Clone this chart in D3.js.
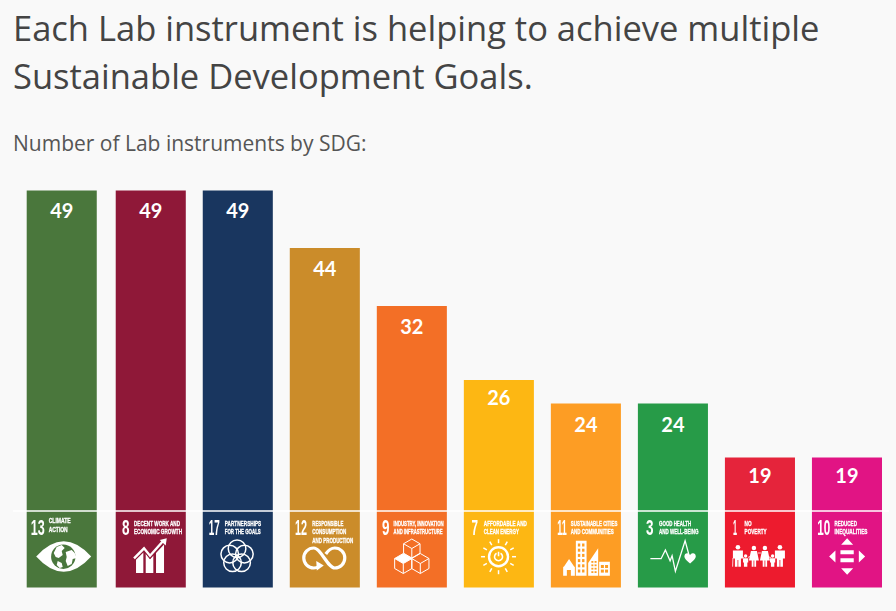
<!DOCTYPE html>
<html>
<head>
<meta charset="utf-8">
<script src="https://cdn.jsdelivr.net/npm/d3@7"></script>
<style>
html, body { margin: 0; padding: 0; background: #f9f9f9; overflow: hidden; }
svg { display: block; }
</style>
</head>
<body>
<div id="chart"></div>
<script>
const titleLines = ["Each Lab instrument is helping to achieve multiple", "Sustainable Development Goals."];
const subtitle = "Number of Lab instruments by SDG:";
const sdgNumbers = ["13", "8", "17", "12", "9", "7", "11", "3", "1", "10"];
const instrumentCounts = [49, 49, 49, 44, 32, 26, 24, 24, 19, 19];
const sdgLabels = [
    ["CLIMATE", "ACTION"],
    ["DECENT WORK AND", "ECONOMIC GROWTH"],
    ["PARTNERSHIPS", "FOR THE GOALS"],
    ["RESPONSIBLE", "CONSUMPTION", "AND PRODUCTION"],
    ["INDUSTRY, INNOVATION", "AND INFRASTRUCTURE"],
    ["AFFORDABLE AND", "CLEAN ENERGY"],
    ["SUSTAINABLE CITIES", "AND COMMUNITIES"],
    ["GOOD HEALTH", "AND WELL-BEING"],
    ["NO", "POVERTY"],
    ["REDUCED", "INEQUALITIES"]
];
const barColors = ["#4a773c", "#8f1838", "#19365f", "#cb8c2a", "#f36f26", "#fdb713", "#fd9d24", "#279b48", "#e5243b", "#e11484"];
const cardColors = ["#4a773c", "#8f1838", "#19365f", "#cb8c2a", "#f36f26", "#fdb713", "#fd9d24", "#279b48", "#ed1b2e", "#e11484"];

// text placement inside each goal card
const numberOffsets = [4, 6.3, 6, 5.2, 5.3, 7.7, 6.3, 8.2, 8, 5.2];
const labelOffsets = [22, 18.3, 22, 22.5, 16.8, 20, 20, 21.2, 19.7, 22.5];
const numberWidths = [14, 7.5, 11, 12, 7.5, 6.5, 9.5, 7.5, 4, 13];
const labelWidths = [[22, 19], [46, 48], [36.5, 36], [31, 34, 41], [50, 49], [43, 35], [46.5, 43], [32, 39.5], [7, 22], [22.5, 33]];
const countDrop = [27.5, 27.5, 27.5, 27.5, 27.5, 24.5, 28, 28, 25, 25];

const width = 896, height = 611;
const baseline = 511, cardBottom = 587.5;

const svg = d3.select("#chart").append("svg").attr("width", width).attr("height", height);

svg.append("defs").append("filter").attr("id", "soft")
    .append("feGaussianBlur").attr("stdDeviation", 0.3);

svg.selectAll(".title").data(titleLines).enter().append("text")
    .attr("x", 13)
    .attr("y", (d, i) => 41 + i * 47.5)
    .attr("font-family", "'Open Sans'")
    .attr("font-size", 34.5)
    .attr("fill", "#444444")
    .text(d => d);

svg.append("text")
    .attr("x", 13).attr("y", 151)
    .attr("font-family", "'Open Sans'")
    .attr("font-size", 21)
    .attr("fill", "#555555")
    .text(subtitle);

var band = d3.scaleBand()
    .domain(sdgNumbers)
    .range([28.7, 882])
    .paddingInner(0.195)
    .paddingOuter(0);

// first bar sits a little further left than the regular step in the picture
function x(n) { return band(n) - (n === sdgNumbers[0] ? 2 : 0); }

// the bars in the picture are not proportional to their counts, so the scale has one segment per count
var y = d3.scaleLinear()
    .domain([19, 24, 26, 32, 44, 49])
    .range([457.5, 403.5, 380, 306, 248, 190.5]);

const goals = sdgNumbers.map((n, i) => ({ n: n, i: i, count: instrumentCounts[i] }));

svg.selectAll(".bar").data(goals).enter().append("rect")
    .attr("class", "bar")
    .attr("x", d => x(d.n))
    .attr("y", d => y(d.count))
    .attr("width", band.bandwidth())
    .attr("height", d => baseline - y(d.count))
    .attr("fill", d => barColors[d.i]);

svg.selectAll(".count").data(goals).enter().append("text")
    .attr("class", "count")
    .attr("x", d => x(d.n) + band.bandwidth() / 2)
    .attr("y", d => y(d.count) + countDrop[d.i])
    .attr("text-anchor", "middle")
    .attr("font-family", "Lato")
    .attr("font-weight", 700)
    .attr("font-size", 20)
    .attr("fill", "#ffffff")
    .text(d => d.count);

const cards = svg.selectAll(".card").data(goals).enter().append("g")
    .attr("class", "card")
    .attr("transform", d => "translate(" + x(d.n) + "," + baseline + ")");

cards.append("rect")
    .attr("width", band.bandwidth())
    .attr("height", cardBottom - baseline)
    .attr("fill", d => cardColors[d.i]);

const cardContent = cards.append("g").attr("filter", "url(#soft)");

cardContent.append("text")
    .attr("x", d => numberOffsets[d.i])
    .attr("y", 23.5)
    .attr("font-family", "'Liberation Sans Narrow', 'Liberation Sans'")
    .attr("font-weight", 700)
    .attr("font-size", 21.5)
    .attr("fill", "#ffffff")
    .attr("textLength", d => numberWidths[d.i])
    .attr("lengthAdjust", "spacingAndGlyphs")
    .text(d => d.n);

cardContent.each(function (d) {
    d3.select(this).selectAll(".line").data(sdgLabels[d.i]).enter().append("text")
        .attr("class", "line")
        .attr("x", labelOffsets[d.i])
        .attr("y", (t, j) => (d.i === 0 ? 12 : 14.5) + j * 8.7)
        .attr("font-family", "'Liberation Sans Narrow', 'Liberation Sans'")
        .attr("font-weight", 700)
        .attr("font-size", 6.9)
        .attr("fill", "#ffffff")
        .attr("stroke", "#ffffff")
        .attr("stroke-width", 0.3)
        .attr("textLength", (t, j) => labelWidths[d.i][j])
        .attr("lengthAdjust", "spacingAndGlyphs")
        .text(t => t);
});

// pictograms, drawn in card coordinates
function eye(g, bg) {
    g.append("path").attr("d", "M9.5,45.5Q37,15 64.5,45.5Q37,76 9.5,45.5Z").attr("fill", "#fff");
    g.append("circle").attr("cx", 36.6).attr("cy", 45.7).attr("r", 12.2).attr("fill", bg);
    g.append("path").attr("fill", "#fff")
        .attr("d", "M30,36l5,-2l3,3l-3,3l1,4l-4,3l-3,-1l-2,-4zM39,41l6,-2l3,3l2,5l-4,1l-1,5l-4,2l-2,-5l1,-4zM31,50l4,2l1,4l-3,1l-3,-3z");
}
function growth(g) {
    g.append("path").attr("fill", "#fff")
        .attr("d", "M20.3,62V48.5L27.6,41.5V62ZM30,62V42.5L34.3,48L37.6,44.5V62ZM40.3,62V42L48.3,33.5V62Z");
    g.append("path").attr("fill", "none").attr("stroke", d => cardColors[d.i]).attr("stroke-width", 1.5)
        .attr("d", "M18.3,49.5L28.3,39.5L34.3,47L47.6,32");
    g.append("path").attr("fill", "none").attr("stroke", "#fff").attr("stroke-width", 2.4)
        .attr("d", "M18.3,47.3L28.3,37.3L34.3,44.7L47.6,29.7");
    g.append("path").attr("fill", "#fff").attr("d", "M51,27.3L50,34.5L44,29Z");
}
function flower(g) {
    d3.range(5).forEach(k => {
        const a = (-90 + 72 * k) * Math.PI / 180;
        g.append("circle")
            .attr("cx", 34.3 + 7.7 * Math.cos(a))
            .attr("cy", 45.5 + 7.7 * Math.sin(a))
            .attr("r", 8.8)
            .attr("fill", "none").attr("stroke", "#fff").attr("stroke-width", 1.5);
    });
}
function loop(g) {
    g.append("path").attr("fill", "none").attr("stroke", "#fff").attr("stroke-width", 3.2)
        .attr("d", "M29,55.5C27.5,56.5 26,57 24,57A10,10 0 1 1 24,37C31,37 38,57 45,57A10,10 0 1 0 45,37C41,37 38,40 36,43");
    g.append("path").attr("fill", "#fff").attr("d", "M26.5,50L34,54.5L27,59.5Z");
}
function cubes(g) {
    function cube(cx, cy, r, filled) {
        const w = 0.866 * r;
        g.append("path").attr("fill", filled ? "#fff" : "none").attr("stroke", "#fff").attr("stroke-width", 1)
            .attr("d", "M" + cx + "," + (cy - r) + "L" + (cx + w) + "," + (cy - r / 2) + "L" + cx + "," + cy + "L" + (cx - w) + "," + (cy - r / 2) + "Z");
        g.append("path").attr("fill", "none").attr("stroke", "#fff").attr("stroke-width", 1)
            .attr("d", "M" + (cx - w) + "," + (cy - r / 2) + "V" + (cy + r / 2) + "L" + cx + "," + (cy + r) + "L" + (cx + w) + "," + (cy + r / 2) + "V" + (cy - r / 2) + "M" + cx + "," + cy + "V" + (cy + r));
    }
    cube(35, 37.5, 9.5, false);
    cube(26.5, 52.5, 10, true);
    cube(43.5, 52.5, 10, false);
}
function sun(g) {
    const cx = 34.7, cy = 45.7;
    d3.range(12).forEach(k => {
        const a = k * 30 * Math.PI / 180;
        g.append("line")
            .attr("x1", cx + 13.5 * Math.cos(a)).attr("y1", cy + 13.5 * Math.sin(a))
            .attr("x2", cx + 17.5 * Math.cos(a)).attr("y2", cy + 17.5 * Math.sin(a))
            .attr("stroke", "#fff").attr("stroke-width", 1.5);
    });
    g.append("circle").attr("cx", cx).attr("cy", cy).attr("r", 9.5).attr("fill", "none").attr("stroke", "#fff").attr("stroke-width", 2.4);
    g.append("path").attr("fill", "none").attr("stroke", "#fff").attr("stroke-width", 1.6)
        .attr("d", "M" + (cx - 2) + "," + (cy - 3.4) + "A4,4 0 1 0 " + (cx + 2) + "," + (cy - 3.4) + "M" + cx + "," + (cy - 5) + "V" + (cy - 0.5));
}
function city(g, bg) {
    g.append("path").attr("fill", "#fff")
        .attr("d", "M12.3,64.7V55.7H13L18.2,48L23.4,55.7H24V64.7H20V59H16V64.7ZM25,64.7V29.7H35.7V64.7ZM37.3,64.7V52L47.3,37.3V64.7ZM48.3,64.7V50.7H59V64.7Z");
    d3.range(6).forEach(r => d3.range(2).forEach(c => {
        g.append("rect").attr("x", 27 + c * 4.2).attr("y", 32.5 + r * 5.2).attr("width", 2.4).attr("height", 3).attr("fill", bg);
    }));
    d3.range(4).forEach(r => d3.range(2).forEach(c => {
        g.append("rect").attr("x", 40.5 + c * 3.2).attr("y", 50 + r * 3.4).attr("width", 2).attr("height", 1.8).attr("fill", bg);
    }));
    d3.range(2).forEach(r => d3.range(2).forEach(c => {
        g.append("rect").attr("x", 50 + c * 4.2).attr("y", 54 + r * 4.6).attr("width", 3).attr("height", 3).attr("fill", bg);
    }));
}
function pulse(g) {
    g.append("path").attr("fill", "none").attr("stroke", "#fff").attr("stroke-width", 1.3)
        .attr("d", "M12.5,47.7H23.2L27.5,39L32.2,49.7L34.2,44.7L37.5,60.3L47.2,29.7L50.8,43");
    g.append("path").attr("fill", "#fff")
        .attr("d", "M52.2,52.5C47,48.5 46.5,46.5 46.5,45A3,3 0 0 1 52.2,44A3,3 0 0 1 57.9,45C57.9,46.5 57.4,48.5 52.2,52.5Z");
}
function family(g) {
    function adult(cx) {
        g.append("circle").attr("cx", cx).attr("cy", 36.2).attr("r", 2.3).attr("fill", "#fff");
        g.append("path").attr("fill", "#fff")
            .attr("d", "M" + (cx - 5) + ",39.5H" + (cx + 5) + "V47.5H" + (cx + 3) + "V55.7H" + (cx + 0.4) + "V49H" + (cx - 0.4) + "V55.7H" + (cx - 3) + "V47.5H" + (cx - 5) + "Z");
    }
    function woman(cx) {
        g.append("circle").attr("cx", cx).attr("cy", 37).attr("r", 2.2).attr("fill", "#fff");
        g.append("path").attr("fill", "#fff")
            .attr("d", "M" + (cx - 3) + ",40H" + (cx + 3) + "L" + (cx + 5) + ",49.5H" + (cx + 2.2) + "V55.7H" + (cx + 0.4) + "V49.5H" + (cx - 0.4) + "V55.7H" + (cx - 2.2) + "V49.5H" + (cx - 5) + "Z");
    }
    function child(cx) {
        g.append("circle").attr("cx", cx).attr("cy", 45).attr("r", 1.7).attr("fill", "#fff");
        g.append("path").attr("fill", "#fff")
            .attr("d", "M" + (cx - 2.6) + ",47.2H" + (cx + 2.6) + "V51.5H" + (cx + 1.7) + "V55.7H" + (cx - 1.7) + "V51.5H" + (cx - 2.6) + "Z");
    }
    adult(13); child(20.7); woman(29); woman(40); child(47.7); adult(55);
    g.append("path").attr("fill", "none").attr("stroke", "#fff").attr("stroke-width", 0.8)
        .attr("d", "M8,47L7.7,55.7M17,46L19,46.5M23,46.5L26,45M33,42L36,42M44,46L46,46.5M50,46.5L51,46");
}
function arrows(g) {
    g.append("path").attr("fill", "#fff")
        .attr("d", "M35.2,27.3L41.2,33.7H29.2ZM35.2,63.7L41.2,57.3H29.2ZM17.2,45.5L23.5,39.5V51.5ZM53.2,45.5L46.9,39.5V51.5ZM28.5,39.3H41.8V43.3H28.5ZM28.5,47.3H41.8V51.3H28.5Z");
}

cardContent.each(function (d) {
    const g = d3.select(this).append("g");
    const bg = cardColors[d.i];
    if (d.n === "13") eye(g, bg);
    if (d.n === "8") growth(g);
    if (d.n === "17") flower(g);
    if (d.n === "12") loop(g);
    if (d.n === "9") cubes(g);
    if (d.n === "7") sun(g);
    if (d.n === "11") city(g, bg);
    if (d.n === "3") pulse(g);
    if (d.n === "1") family(g);
    if (d.n === "10") arrows(g);
});

svg.append("line")
    .attr("x1", 13).attr("x2", 889)
    .attr("y1", baseline).attr("y2", baseline)
    .attr("stroke", "#ffffff")
    .attr("stroke-width", 1.6);
</script>
</body>
</html>
